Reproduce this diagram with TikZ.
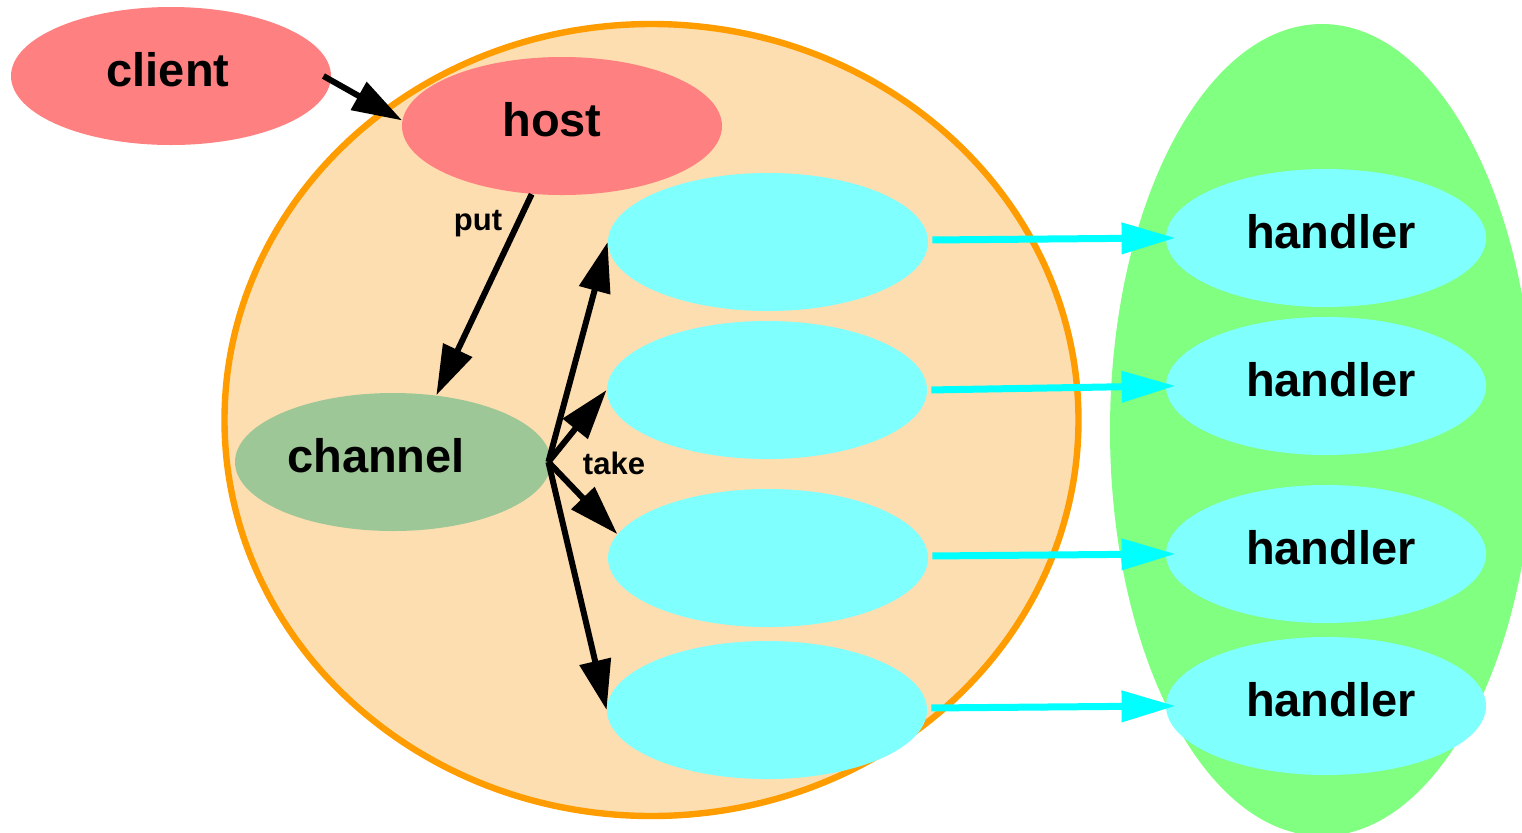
\documentclass[tikz,border=0pt]{standalone}
\usepackage{fontspec}
\setmainfont{Liberation Sans}
\usetikzlibrary{shapes.geometric,arrows.meta}

\definecolor{pinkfill}{HTML}{FF8080}
\definecolor{hostarea}{HTML}{FDDEB0}
\definecolor{hostline}{HTML}{FF9D00}
\definecolor{chanfill}{HTML}{9EC797}
\definecolor{workfill}{HTML}{80FFFF}
\definecolor{poolfill}{HTML}{80FF80}
\definecolor{flowline}{HTML}{00FFFF}

\begin{document}
\begin{tikzpicture}[x=0.5pt,y=-0.5pt,
  blob/.style={ellipse, inner sep=0pt, minimum width=160pt, minimum height=69pt,
    text height=17pt, text depth=7pt,
    font=\fontsize{23.5}{28}\selectfont\bfseries},
  pinknode/.style={blob, fill=pinkfill},
  channode/.style={blob, fill=chanfill, minimum width=158pt},
  worknode/.style={blob, fill=workfill},
  edgetext/.style={inner sep=0pt, font=\fontsize{15.5}{18}\selectfont\bfseries},
  blackarrow/.style={line width=3pt, -{Triangle[length=25pt,width=15.5pt]}},
  flowarrow/.style={draw=flowline, line width=3.5pt,
    -{Triangle[length=27pt,width=15pt]}, shorten >=-5pt, shorten <=2pt}
]
\clip (0,0) rectangle (1522,832);

% clusters
\filldraw[fill=hostarea, draw=hostline, line width=3.2pt]
  (651.5,420) ellipse [x radius=213.5pt, y radius=198pt];
\fill[poolfill] (1322,430) ellipse [x radius=106pt, y radius=203pt];

% nodes
\node[pinknode] (client) at (171,76) {client\kern3pt};
\node[pinknode] (host) at (562,126) {host\kern10pt};
\node[channode] (channel) at (393,462) {channel\kern17pt};

\node[worknode] (w1) at (768,242) {};
\node[worknode] (w2) at (767,390) {};
\node[worknode] (w3) at (768,558) {};
\node[worknode] (w4) at (767,710) {};

\node[worknode] (h1) at (1326,238) {\kern5pt handler};
\node[worknode] (h2) at (1326,386) {\kern5pt handler};
\node[worknode] (h3) at (1326,554) {\kern5pt handler};
\node[worknode] (h4) at (1326,706) {\kern5pt handler};

% edges
\draw[blackarrow] ([xshift=-4pt]client.east) -- (host.178);
\draw[blackarrow] (host.246) -- (channel.57);
\node[edgetext] (putlabel) at (478,224) {put};

\draw[blackarrow] ([xshift=-1.5pt]channel.east) -- (w1.west);
\draw[blackarrow] ([xshift=-1.5pt]channel.east) -- (w2.west);
\draw[blackarrow] ([xshift=-1.5pt]channel.east) -- (w3.171);
\draw[blackarrow] ([xshift=-1.5pt]channel.east) -- (w4.west);
\node[edgetext] (takelabel) at (614,463) {take};

\draw[flowarrow] ([yshift=1pt]w1.east) -- (h1.west);
\draw[flowarrow] (w2.east) -- (h2.west);
\draw[flowarrow] ([yshift=1pt]w3.east) -- (h3.west);
\draw[flowarrow] ([yshift=1pt]w4.east) -- (h4.west);
\end{tikzpicture}
\end{document}
